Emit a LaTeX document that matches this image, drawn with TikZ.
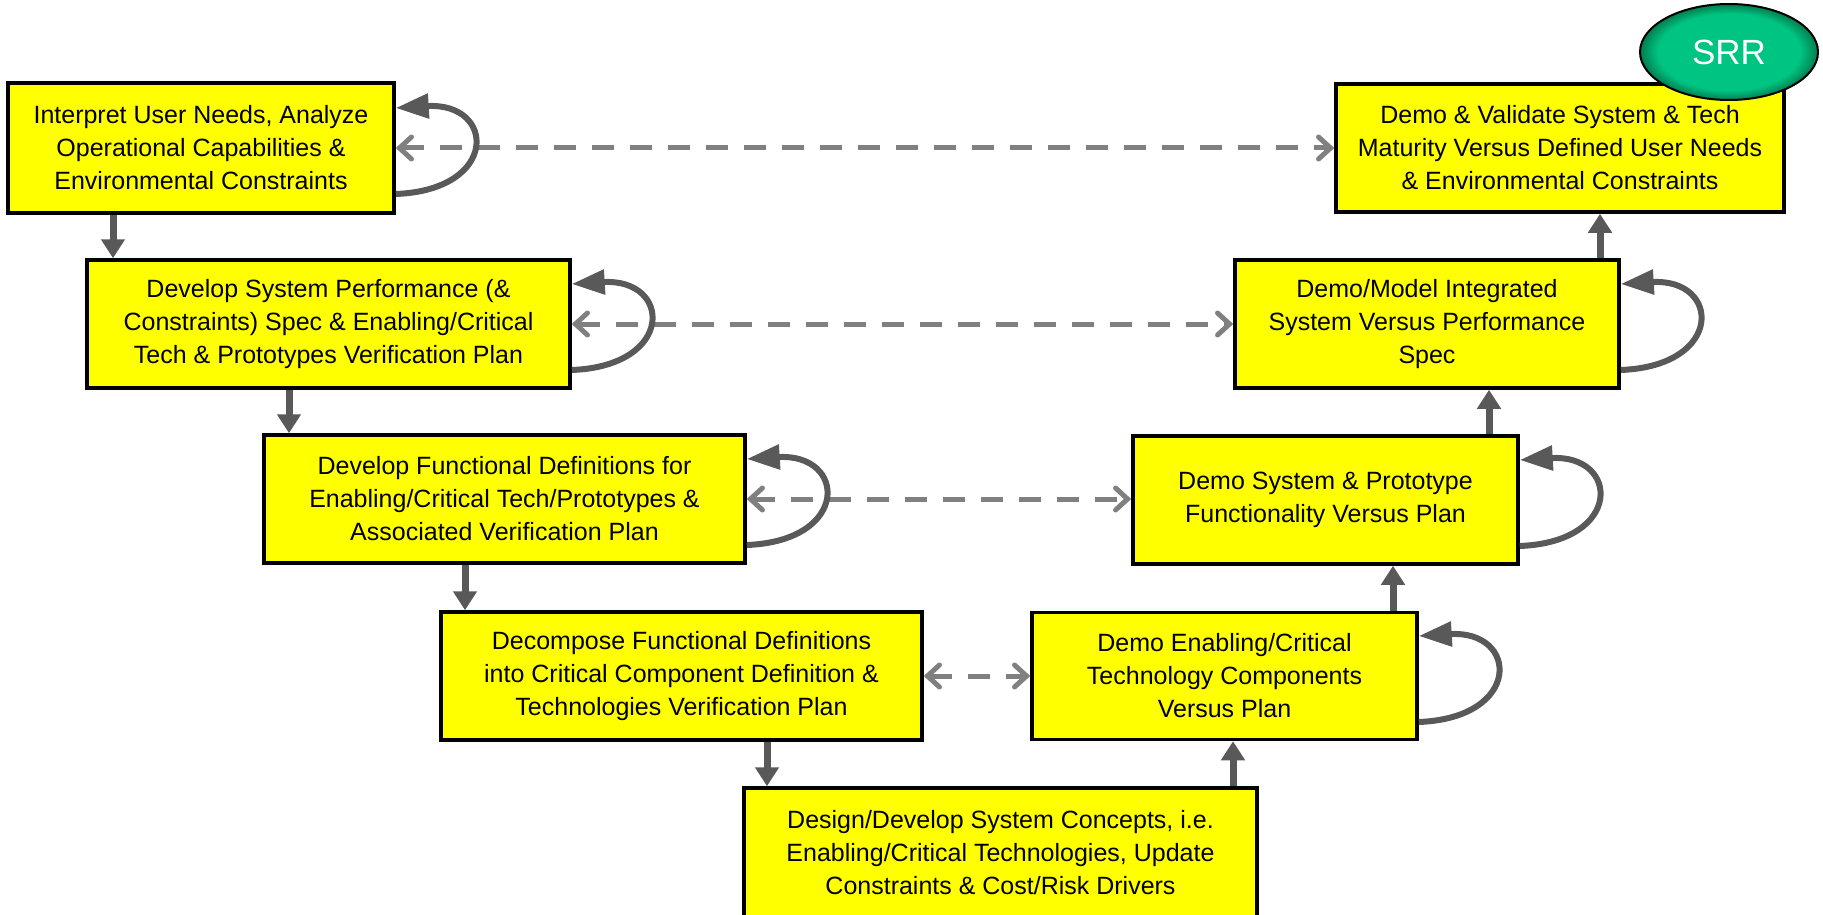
\documentclass[tikz,border=0pt]{standalone}
\usepackage{fontspec}
\setmainfont{Liberation Sans}
\usetikzlibrary{arrows.meta,shapes.geometric}

\definecolor{boxyellow}{RGB}{255,255,0}
\definecolor{flowgray}{RGB}{89,89,89}
\definecolor{linkgray}{RGB}{128,128,128}
\definecolor{srrgreen}{RGB}{0,196,130}
\definecolor{srrdark}{RGB}{0,125,80}

% green review bubble: flat centre, darker rim (rim at 25bp)
\pgfdeclareradialshading{srrglow}{\pgfpoint{0bp}{0bp}}{%
  color(0bp)=(srrgreen); color(20bp)=(srrgreen); color(25bp)=(srrdark);
  color(50bp)=(srrdark)}

\begin{document}
\begin{tikzpicture}[x=1pt,y=-1pt,
  stage/.style={rectangle, draw=black, line width=3.5pt, fill=boxyellow,
    align=center, inner sep=0pt, text=black,
    font=\fontsize{25}{33}\selectfont},
  flow/.style={draw=flowgray, line width=7pt,
    -{Triangle[length=19pt,width=23pt]}},
  link/.style={draw=linkgray, line width=5pt, dash pattern=on 22pt off 16pt,
    {Straight Barb[length=12pt,width=22pt,line width=5pt,line cap=round]}-%
    {Straight Barb[length=12pt,width=22pt,line width=5pt,line cap=round]}},
  selfloop/.style={draw=flowgray, line width=6pt,
    -{Triangle[length=33pt,width=24pt]}},
]
\useasboundingbox (0,0) rectangle (1823,915);

% left leg: definition and decomposition
\node[stage, minimum width=386pt, minimum height=130pt] (b1) at (201,148)
  {Interpret User Needs, Analyze\\Operational Capabilities \&\\Environmental Constraints};
\node[stage, minimum width=483pt, minimum height=128pt] (b2) at (328.5,324)
  {Develop System Performance (\&\\Constraints) Spec \& Enabling/Critical\\Tech \& Prototypes Verification Plan};
\node[stage, minimum width=481pt, minimum height=128pt] (b3) at (504.5,499)
  {Develop Functional Definitions for\\Enabling/Critical Tech/Prototypes \&\\Associated Verification Plan};
\node[stage, minimum width=481pt, minimum height=128pt] (b4) at (681.5,676)
  {Decompose Functional Definitions\\into Critical Component Definition \&\\Technologies Verification Plan};

% bottom of the V
\node[stage, minimum width=513pt, minimum height=130pt] (b5) at (1000.5,853)
  {Design/Develop System Concepts, i.e.\\Enabling/Critical Technologies, Update\\Constraints \& Cost/Risk Drivers};

% right leg: demonstration and validation
\node[stage, minimum width=385pt, minimum height=127pt] (b6) at (1224.5,676)
  {Demo Enabling/Critical\\Technology Components\\Versus Plan};
\node[stage, minimum width=385pt, minimum height=128pt] (b7) at (1325.5,500)
  {Demo System \& Prototype\\Functionality Versus Plan};
\node[stage, minimum width=384pt, minimum height=128pt] (b8) at (1427,324)
  {Demo/Model Integrated\\System Versus Performance\\Spec};
\node[stage, minimum width=448pt, minimum height=128pt] (b9) at (1560,148)
  {Demo \& Validate System \& Tech\\Maturity Versus Defined User Needs\\\& Environmental Constraints};

% verification links across the V
\draw[link] (b1.east) -- (b9.west);
\draw[link] (b2.east) -- (b8.west);
\draw[link] (b3.east) -- (b3.east -| b7.west);
\draw[link] (b4.east) -- (b4.east -| b6.west);

% iteration loops
\foreach \b in {b1,b2,b3,b6,b7,b8}{
  \draw[selfloop] ([yshift=-46pt]\b.east) .. controls +(104,-4) and +(100,-6)
    .. ([yshift=40pt]\b.east);
}

% flow down the left leg and up the right leg
\coordinate (f1) at (113,0);
\coordinate (f2) at (289,0);
\coordinate (f3) at (465,0);
\coordinate (f4) at (767,0);
\coordinate (f5) at (1233,0);
\coordinate (f6) at (1393,0);
\coordinate (f7) at (1489,0);
\coordinate (f8) at (1600,0);
\draw[flow] (b1.south -| f1) -- (b2.north -| f1);
\draw[flow] (b2.south -| f2) -- (b3.north -| f2);
\draw[flow] (b3.south -| f3) -- (b4.north -| f3);
\draw[flow] (b4.south -| f4) -- (b5.north -| f4);
\draw[flow] (b5.north -| f5) -- (b6.south -| f5);
\draw[flow] (b6.north -| f6) -- (b7.south -| f6);
\draw[flow] (b7.north -| f7) -- (b8.south -| f7);
\draw[flow] (b8.north -| f8) -- (b9.south -| f8);

% review milestone
\node[ellipse, draw=black, line width=2pt, shading=srrglow,
  minimum width=178pt, minimum height=96pt, inner sep=0pt,
  text=white, font=\fontsize{35}{38}\selectfont] (srr) at (1729,52) {SRR};
\end{tikzpicture}
\end{document}
